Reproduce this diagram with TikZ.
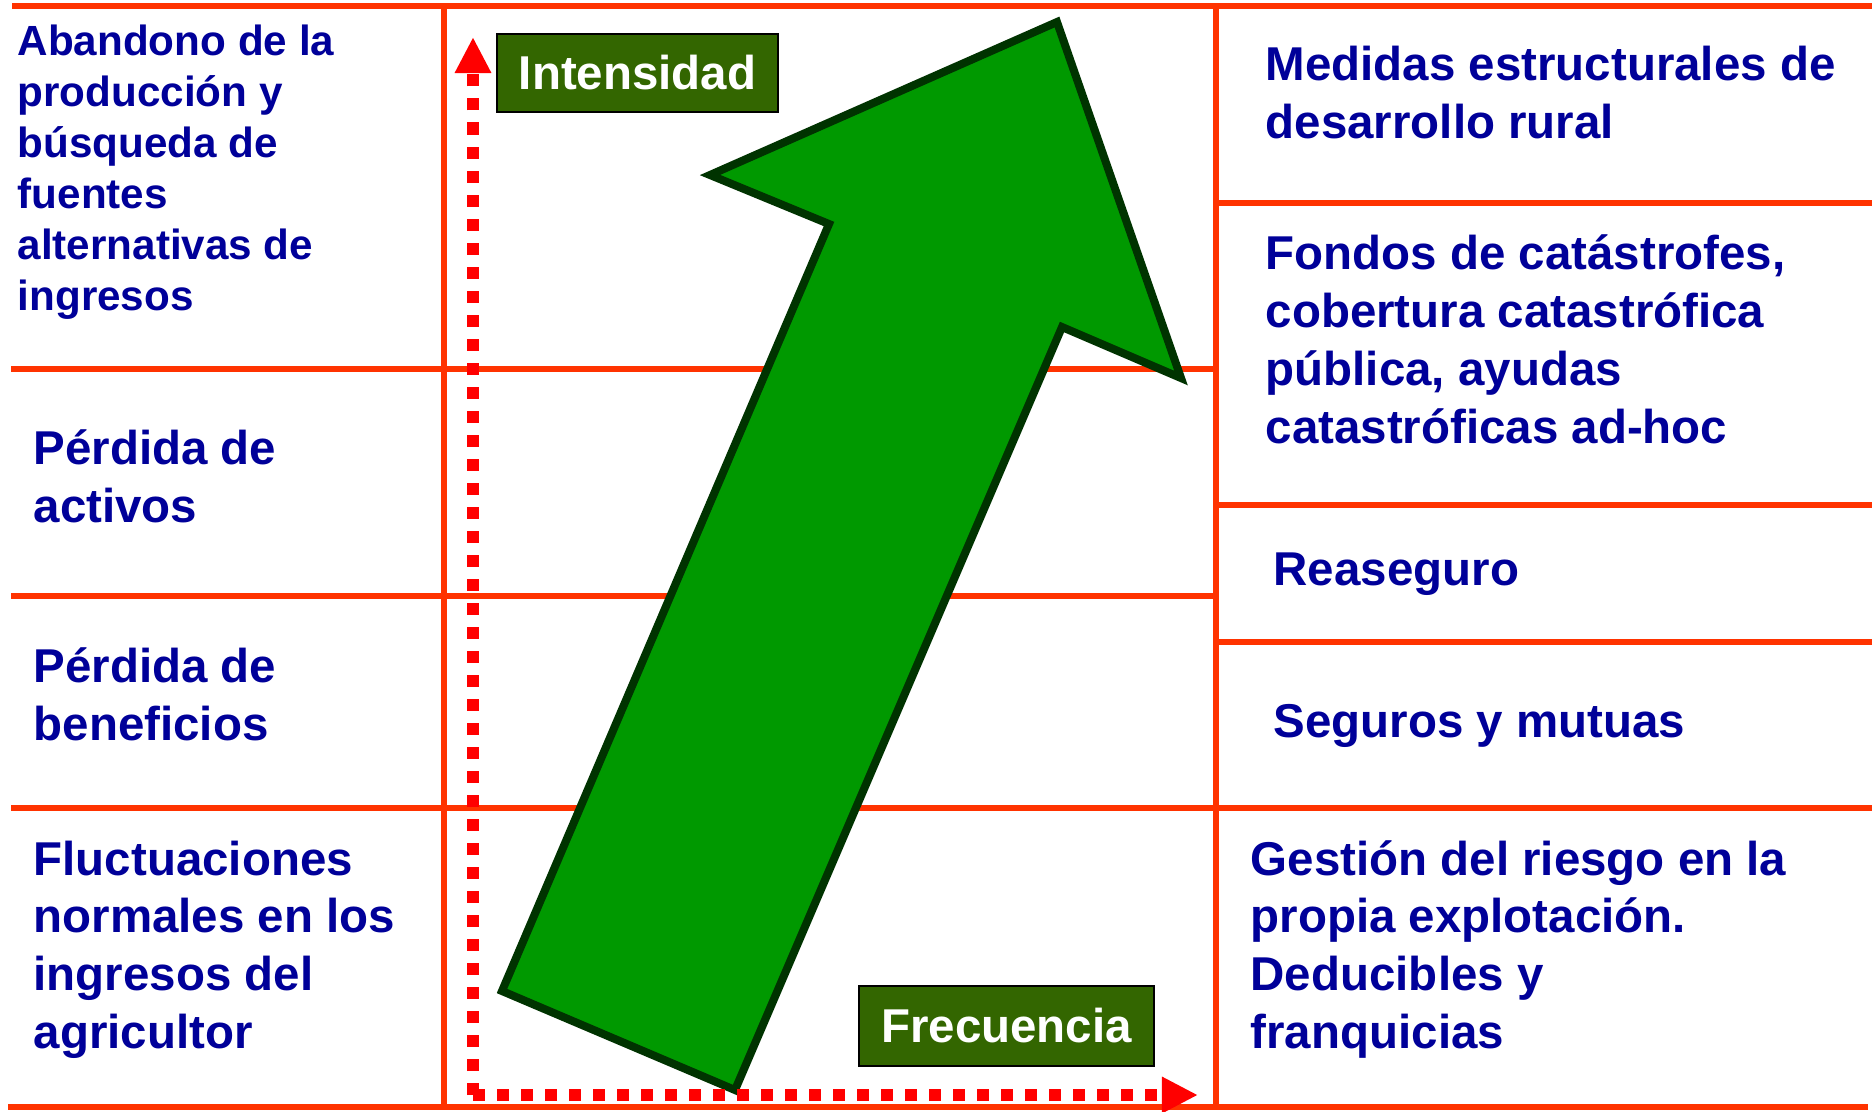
\documentclass[tikz,border=0pt]{standalone}
\usepackage{fontspec}
\setmainfont{Liberation Sans}
\usetikzlibrary{arrows.meta}
\definecolor{naranja}{RGB}{255,51,0}
\definecolor{rojoeje}{RGB}{255,0,0}
\definecolor{azultexto}{RGB}{0,0,153}
\definecolor{verdeflecha}{RGB}{0,153,0}
\definecolor{verdeborde}{RGB}{0,51,0}
\definecolor{verdecaja}{RGB}{51,102,0}
\begin{document}
\begin{tikzpicture}[x=0.01cm,y=-0.01cm,
    rejilla/.style={color=naranja,line width=0.06cm},
    eje/.style={color=rojoeje,line width=0.12cm,dash pattern=on 0.12cm off 0.12cm,
      -{Triangle[length=0.36cm,width=0.34cm]}},
    etiqueta/.style={anchor=base west,align=left,inner sep=0pt,text=azultexto,
      font=\bfseries\fontsize{13.5}{16.4}\selectfont},
    caja/.style={draw=black,line width=0.02cm,fill=verdecaja,text=white,inner sep=0pt,
      font=\bfseries\fontsize{13.5}{16.4}\selectfont}]
      \useasboundingbox (0,0) rectangle (1875,1111);
      % rejilla
      \foreach \y/\a/\b in {6/12/1872,1107/8/1868,369/11/1216,596/11/1216,808/11/1872,
        203/1216/1872,505/1216/1872,642/1216/1872}
      \draw[rejilla] (\a,\y) -- (\b,\y);
      \foreach \x in {444,1216}
      \draw[rejilla] (\x,6) -- (\x,1107);
      % flecha verde
      \draw[fill=verdeflecha,draw=verdeborde,line width=0.08cm,line join=miter]
        (1057,22) -- (1181,378) -- (1062,327) -- (735,1090) --
        (502,991) -- (829,224) -- (710,175) -- cycle;
      % ejes
      \coordinate (origen) at (473,1095);
      \coordinate (ymax) at (473,37);
      \coordinate (xmax) at (1198,1095);
      \draw[eje] (origen) -- (ymax);
      \draw[eje] (origen) -- (xmax);
      \node[caja,minimum width=2.81cm,minimum height=0.78cm] (intensidad) at (637.5,73) {Intensidad};
      \node[caja,minimum width=2.95cm,minimum height=0.80cm] (frecuencia) at (1006.5,1026) {Frecuencia};
      % columna izquierda (base = ultima linea)
      \node[etiqueta,font=\bfseries\fontsize{12}{14.5}\selectfont] (abandono) at (17,310)
        {Abandono de la\\producción y\\búsqueda de\\fuentes\\alternativas de\\ingresos};
      \node[etiqueta] (activos) at (33,522) {Pérdida de\\activos};
      \node[etiqueta] (beneficios) at (33,740) {Pérdida de\\beneficios};
      \node[etiqueta] (fluctuaciones) at (33,1048)
        {Fluctuaciones\\normales en los\\ingresos del\\agricultor};
      % columna derecha
      \node[etiqueta] (medidas) at (1265,138) {Medidas estructurales de\\desarrollo rural};
      \node[etiqueta] (fondos) at (1265,443)
        {Fondos de catástrofes,\\cobertura catastrófica\\pública, ayudas\\catastróficas ad-hoc};
      \node[etiqueta] (reaseguro) at (1273,585) {Reaseguro};
      \node[etiqueta] (seguros) at (1273,737) {Seguros y mutuas};
      \node[etiqueta] (gestion) at (1250,1048)
        {Gestión del riesgo en la\\propia explotación.\\Deducibles y\\franquicias};
    \end{tikzpicture}
\end{document}
